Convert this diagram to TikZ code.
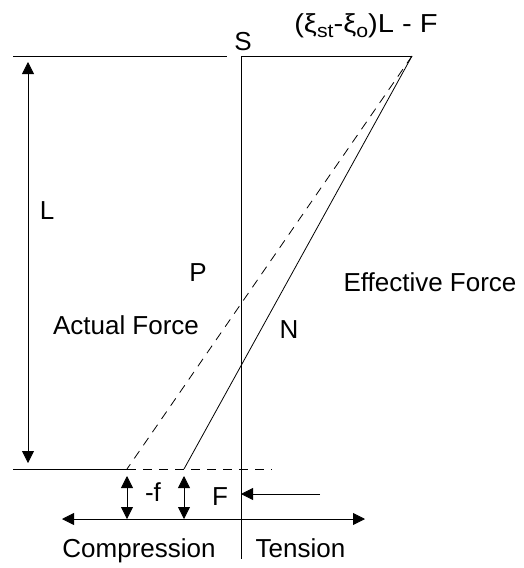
\documentclass[tikz,border=0pt]{standalone}
\usepackage{fontspec}
\setmainfont{Liberation Sans}
\usetikzlibrary{arrows.meta,calc}
\tikzset{LABEL/.style={inner sep=0pt,font=\fontsize{26}{31}\selectfont}}
\tikzset{LINE/.style={line width=0.8pt}}
\tikzset{DASHED/.style={line width=0.8pt, dash pattern=on 9pt off 7pt}}
\tikzset{ARROW/.style={line width=0.8pt, -{Triangle[length=12pt,width=12pt]}}}
\tikzset{DARROW/.style={line width=0.8pt, {Triangle[length=12pt,width=12pt]}-{Triangle[length=12pt,width=12pt]}}}
\newcommand{\lowsub}[1]{\raisebox{-5pt}{\fontsize{19}{21}\selectfont #1}}

\begin{document}
\begin{tikzpicture}[x=1pt,y=-1pt]
\useasboundingbox (0,0) rectangle (524,568);

% frame points
\coordinate (c_top) at (412,56);
\coordinate (c_axis_top) at (241,56);
\coordinate (c_axis_bot) at (241,559);
\coordinate (c_actual) at (127,469);
\coordinate (c_eff) at (184,469);

% top and bottom lines
\draw[LINE] (13,56) coordinate (c_top_left) -- (227,56) coordinate (c_top_mid);
\draw[LINE] (c_axis_top) -- (c_top);
\draw[LINE] (13,469) coordinate (c_bot_left) -- (c_actual);
\draw[DASHED] (c_actual) -- (272,469) coordinate (c_bot_right);

% axis
\draw[LINE] (c_axis_top) -- (c_axis_bot);

% force lines
\draw[DASHED] (c_top) -- (c_actual);
\draw[LINE] (c_top) -- (c_eff);

% length L
\coordinate (c_L_top) at (28,62);
\coordinate (c_L_bot) at (28,463);
\draw[DARROW] (c_L_top) -- (c_L_bot);

% offsets at the bottom
\coordinate (c_axis_left) at (62,519);
\coordinate (c_axis_right) at (365,519);
\draw[DARROW] (c_axis_left) -- (c_axis_right);
\draw[DARROW] ($(c_actual)+(0,7)$) -- (c_actual|-c_axis_left);
\draw[DARROW] ($(c_eff)+(0,7)$) -- (c_eff|-c_axis_left);

\coordinate (c_F_start) at (320,494);
\draw[ARROW] (c_F_start) -- (c_F_start-|c_axis_top);

% labels
\node[LABEL] (n_S) at (243,41.5) {S};
\node[LABEL, anchor=base] (n_top) at (366,32) {\scalebox{1.12}[1]{(ξ\lowsub{st}-ξ\lowsub{o})L - F}};
\node[LABEL] (n_L) at (47,211) {L};
\node[LABEL] (n_P) at (198,273) {P};
\node[LABEL] (n_effective) at (430,282) {Effective Force};
\node[LABEL] (n_actual) at (126,325) {Actual Force};
\node[LABEL] (n_N) at (289,330) {N};
\node[LABEL] (n_f) at (153,492) {-f};
\node[LABEL] (n_F) at (220,497) {F};
\node[LABEL, anchor=base] (n_compression) at (139,557) {Compression};
\node[LABEL, anchor=base] (n_tension) at (300.5,557) {Tension};

\end{tikzpicture}
\end{document}
